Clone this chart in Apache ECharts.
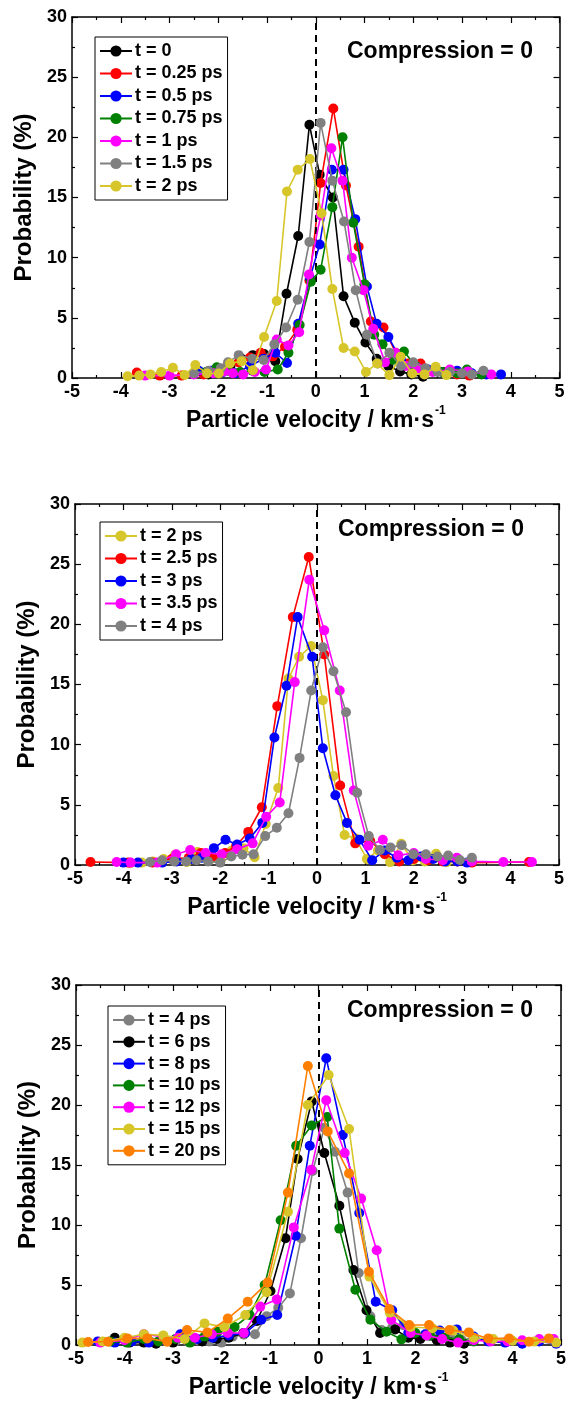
<!DOCTYPE html>
<html><head><meta charset="utf-8">
<script src="https://cdn.jsdelivr.net/npm/echarts@6/dist/echarts.min.js"></script>
<style>html,body{margin:0;padding:0;background:#fff}#c{width:569px;height:1403px}</style>
</head><body><div id="c"></div>
<script>
// ---------- DATA (velocity km/s, probability %) ----------
const P1_NAMES = ['t = 0', 't = 0.25 ps', 't = 0.5 ps', 't = 0.75 ps', 't = 1 ps', 't = 1.5 ps', 't = 2 ps'];
const P2_NAMES = ['t = 2 ps', 't = 2.5 ps', 't = 3 ps', 't = 3.5 ps', 't = 4 ps'];
const P3_NAMES = ['t = 4 ps', 't = 6 ps', 't = 8 ps', 't = 10 ps', 't = 12 ps', 't = 15 ps', 't = 20 ps'];

const T0 = [[-2.2,0.3],[-1.97,0.6],[-1.75,1.0],[-1.52,1.6],[-1.29,1.9],[-1.06,2.0],[-0.83,1.4],[-0.60,7.0],[-0.36,11.8],[-0.13,21.05],[0.08,16.9],[0.35,15.0],[0.57,6.8],[0.80,4.6],[1.02,2.95],[1.25,1.6],[1.49,1.0],[1.73,0.55],[1.96,0.3],[2.2,0.1]];
const T025 = [[-3.67,0.45],[-3.2,0.2],[-2.75,0.2],[-2.3,0.3],[-1.85,0.8],[-1.58,1.3],[-1.35,1.7],[-1.13,2.1],[-0.88,1.8],[-0.63,2.6],[-0.38,4.0],[-0.13,8.1],[0.10,16.2],[0.36,22.4],[0.62,16.0],[0.88,10.9],[1.13,4.7],[1.39,4.2],[1.64,2.1],[1.9,1.2],[2.15,1.2],[2.4,0.6],[2.65,0.5],[2.9,0.3],[3.15,0.2]];
const T05 = [[-2.4,0.6],[-2.15,0.6],[-1.9,0.5],[-1.65,0.4],[-1.35,1.0],[-1.07,1.6],[-0.83,2.1],[-0.59,1.25],[-0.36,4.5],[-0.12,8.3],[0.08,11.1],[0.33,17.3],[0.57,17.3],[0.81,13.2],[1.05,7.6],[1.25,4.5],[1.49,3.4],[1.75,1.5],[2.0,1.0],[2.3,0.7],[2.6,0.5],[2.9,0.6],[3.2,0.4],[3.5,0.3],[3.8,0.3]];
const T075 = [[-2.5,0.4],[-2.25,0.5],[-2.03,0.9],[-1.8,0.6],[-1.55,0.5],[-1.3,0.6],[-1.05,0.5],[-0.78,0.7],[-0.56,2.1],[-0.33,4.4],[-0.1,8.0],[0.1,9.0],[0.34,14.2],[0.55,20.0],[0.77,12.9],[1.0,7.8],[1.2,3.6],[1.37,2.8],[1.58,1.5],[1.81,2.2],[2.05,1.0],[2.3,0.6],[2.6,0.5],[2.9,0.4],[3.1,0.7],[3.4,0.3]];
const T1 = [[-3.5,0.2],[-3.0,0.2],[-2.5,0.3],[-2.1,0.4],[-1.88,0.55],[-1.7,0.4],[-1.49,0.3],[-1.25,0.5],[-1.02,0.7],[-0.8,3.2],[-0.56,2.7],[-0.34,3.8],[-0.14,8.6],[0.1,13.5],[0.32,19.1],[0.55,16.4],[0.74,10.0],[0.98,7.3],[1.18,4.1],[1.42,1.3],[1.63,2.1],[1.85,1.0],[2.1,0.8],[2.4,0.5],[2.75,0.7],[3.12,0.55],[3.6,0.3]];
const T15 = [[-2.5,0.4],[-2.2,0.6],[-1.95,0.8],[-1.8,1.3],[-1.58,1.9],[-1.3,1.6],[-1.07,1.5],[-0.85,2.8],[-0.61,4.2],[-0.37,6.5],[-0.13,11.3],[0.1,21.2],[0.34,16.4],[0.58,13.0],[0.82,7.3],[1.05,3.6],[1.27,1.2],[1.51,2.1],[1.75,1.0],[2.0,1.3],[2.25,0.8],[2.5,0.5],[2.75,0.5],[3.0,0.4],[3.2,0.3],[3.44,0.6]];
const T2 = [[-3.86,0.15],[-3.62,0.2],[-3.39,0.3],[-3.17,0.5],[-2.93,0.85],[-2.69,0.25],[-2.47,1.07],[-2.23,0.38],[-1.99,0.38],[-1.76,1.2],[-1.52,1.4],[-1.29,0.65],[-1.06,3.4],[-0.80,6.4],[-0.59,15.5],[-0.37,17.3],[-0.12,18.2],[0.12,13.7],[0.34,7.4],[0.57,2.5],[0.80,2.2],[1.03,0.5],[1.26,1.2],[1.51,0.24],[1.74,1.76],[1.98,0.38],[2.23,0.3],[2.46,0.93],[2.68,0.24]];
const T25 = [[-4.68,0.25],[-3.9,0.2],[-3.4,0.2],[-3.0,0.5],[-2.65,0.6],[-2.4,1.0],[-2.15,0.7],[-1.9,1.0],[-1.67,1.6],[-1.42,2.75],[-1.14,4.8],[-0.82,13.2],[-0.50,20.6],[-0.17,25.6],[0.15,17.5],[0.48,6.6],[0.79,1.8],[1.1,2.0],[1.4,0.9],[1.7,0.3],[2.0,0.5],[2.3,0.4],[2.6,0.3],[2.9,0.3],[3.2,0.2],[4.38,0.25]];
const T3 = [[-4.0,0.2],[-3.7,0.2],[-3.2,0.2],[-2.9,0.3],[-2.6,0.5],[-2.38,0.6],[-2.13,1.4],[-1.89,2.1],[-1.65,1.7],[-1.39,2.2],[-1.13,3.5],[-0.88,10.6],[-0.63,14.9],[-0.40,20.6],[-0.10,17.3],[0.12,9.7],[0.38,5.8],[0.62,3.5],[0.88,2.1],[1.14,0.4],[1.4,1.2],[1.65,0.6],[1.89,0.4],[2.15,0.7],[2.4,0.5],[2.65,0.3],[2.9,0.3],[3.1,0.2]];
const T35 = [[-4.14,0.25],[-3.85,0.2],[-3.3,0.2],[-2.91,0.9],[-2.62,1.25],[-2.3,1.0],[-1.97,0.9],[-1.65,1.3],[-1.33,1.8],[-1.05,4.0],[-0.77,5.2],[-0.46,15.2],[-0.16,23.7],[0.15,19.5],[0.47,14.5],[0.76,6.2],[1.06,1.6],[1.36,2.1],[1.68,0.8],[2.0,1.0],[2.25,0.5],[2.6,0.4],[2.89,0.6],[3.2,0.3],[3.85,0.25],[4.44,0.25]];
const T4 = [[-3.45,0.25],[-3.2,0.4],[-2.95,0.3],[-2.7,0.3],[-2.49,0.4],[-2.25,0.3],[-2.0,0.2],[-1.77,0.7],[-1.54,0.85],[-1.31,0.9],[-1.07,2.4],[-0.83,3.1],[-0.59,4.3],[-0.36,8.9],[-0.12,14.5],[0.12,18.1],[0.34,16.1],[0.60,12.7],[0.83,6.0],[1.07,2.4],[1.3,1.25],[1.52,1.45],[1.75,1.65],[1.99,0.9],[2.25,0.9],[2.49,0.7],[2.71,0.78],[2.95,0.42],[3.2,0.6]];
const T6 = [[-4.2,0.6],[-3.9,0.2],[-3.6,0.2],[-3.35,0.1],[-3.0,0.2],[-2.7,0.4],[-2.4,0.3],[-2.1,0.5],[-1.85,0.6],[-1.55,1.0],[-1.27,2.0],[-0.99,4.5],[-0.68,8.9],[-0.43,15.5],[-0.14,20.3],[0.12,16.0],[0.43,11.6],[0.72,6.25],[0.99,2.9],[1.27,1.0],[1.58,1.3],[1.85,0.6],[2.1,0.5],[2.44,0.4],[2.71,0.2],[3.0,0.1]];
const T8 = [[-4.55,0.3],[-4.2,0.2],[-3.85,0.3],[-3.5,0.2],[-3.2,0.4],[-2.85,0.9],[-2.5,0.5],[-2.18,0.6],[-1.85,0.8],[-1.51,1.0],[-1.18,2.1],[-0.85,2.5],[-0.47,9.1],[-0.18,16.6],[0.16,23.9],[0.50,17.5],[0.84,11.0],[1.18,3.6],[1.52,2.9],[1.85,1.0],[2.2,0.9],[2.5,1.2],[2.85,1.3],[3.2,0.7],[3.5,0.3],[3.85,0.2],[4.2,0.1],[4.55,0.3],[4.9,0.1]];
const T10 = [[-4.3,0.3],[-3.95,0.2],[-3.6,0.5],[-3.3,0.3],[-2.95,0.5],[-2.65,0.2],[-2.35,0.7],[-2.08,1.1],[-1.73,1.5],[-1.42,2.5],[-1.11,5.0],[-0.78,10.4],[-0.46,16.6],[-0.14,18.3],[0.18,19.0],[0.43,9.7],[0.76,4.6],[1.07,2.1],[1.4,1.1],[1.71,0.47],[2.0,1.0],[2.3,0.8],[2.6,0.6],[2.9,0.5],[3.2,0.3]];
const T12 = [[-4.5,0.2],[-4.0,0.4],[-3.6,0.9],[-3.2,0.7],[-2.9,0.6],[-2.55,0.6],[-2.2,0.9],[-1.87,1.0],[-1.54,1.0],[-1.2,3.2],[-0.86,3.8],[-0.51,9.8],[-0.15,14.6],[0.16,20.4],[0.54,16.0],[0.88,12.2],[1.2,7.9],[1.5,2.1],[1.9,1.0],[2.23,0.8],[2.55,0.5],[2.88,0.2],[3.2,0.4],[3.55,0.3],[3.9,0.3],[4.2,0.4],[4.55,0.5],[4.85,0.5]];
const T15P = [[-4.87,0.2],[-4.45,0.3],[-4.0,0.6],[-3.6,0.9],[-3.2,0.8],[-2.76,0.5],[-2.35,1.8],[-1.94,1.5],[-1.51,2.5],[-1.07,4.4],[-0.63,11.1],[-0.22,20.0],[0.21,22.5],[0.63,18.0],[1.05,5.7],[1.47,2.7],[1.9,1.5],[2.35,1.4],[2.78,1.2],[3.2,0.6],[3.6,0.5],[4.0,0.35],[4.45,0.3],[4.9,0.2]];
const T20 = [[-4.75,0.25],[-4.34,0.28],[-3.94,0.55],[-3.53,0.55],[-3.12,0.28],[-2.71,1.25],[-2.29,1.05],[-1.87,2.2],[-1.46,3.6],[-1.05,5.2],[-0.63,12.7],[-0.22,23.25],[0.19,17.8],[0.63,14.3],[1.04,6.1],[1.46,3.0],[1.87,1.67],[2.28,1.67],[2.7,1.25],[3.1,1.05],[3.5,0.55],[3.93,0.55],[4.34,0.28],[4.75,0.55]];

const P1_DATA = [T0, T025, T05, T075, T1, T15, T2];
const P2_DATA = [T2, T25, T3, T35, T4];
const P3_DATA = [T4, T6, T8, T10, T12, T15P, T20];

const P1_COLORS = ['#000000', '#ff0000', '#0000ff', '#008000', '#ff00ff', '#808080', '#d6c62a'];
const P2_COLORS = ['#d6c62a', '#ff0000', '#0000ff', '#ff00ff', '#808080'];
const P3_COLORS = ['#808080', '#000000', '#0000ff', '#008000', '#ff00ff', '#d6c62a', '#ff8000'];

const X_TITLE = '{a|Particle velocity / km·s}{s|-1}';
const Y_TITLE = 'Probability (%)';
const NOTE = 'Compression = 0';

// ---------- LAYOUT ----------
const FONT = '"Liberation Sans", Arial, sans-serif';
const panels = [
  {grid: {left: 72, top: 17, width: 487.5, height: 361}, legend: {left: 95, top: 37, gap: 4.5}, note: [347, 52], names: P1_NAMES, data: P1_DATA, colors: P1_COLORS},
  {grid: {left: 75, top: 504, width: 484, height: 361}, legend: {left: 100, top: 522, gap: 4.5}, note: [338, 530], names: P2_NAMES, data: P2_DATA, colors: P2_COLORS},
  {grid: {left: 76, top: 985, width: 485, height: 360}, legend: {left: 108, top: 1006, gap: 3.8}, note: [347, 1011], names: P3_NAMES, data: P3_DATA, colors: P3_COLORS}
];

const grids = [], xAxes = [], yAxes = [], legends = [], series = [], graphics = [];
const axisLine = {show: true, onZero: false, lineStyle: {color: '#000', width: 1.5}};
const tick = {show: true, inside: true, length: 6, lineStyle: {color: '#000', width: 1.2}};
const minor = {show: true, splitNumber: 2, length: 3, lineStyle: {color: '#000', width: 1.2}};
const lbl = {color: '#000', fontSize: 18, fontWeight: 'bold', fontFamily: FONT};

panels.forEach((p, i) => {
  grids.push(Object.assign({containLabel: false}, p.grid));
  xAxes.push({type: 'value', gridIndex: i, position: 'bottom', min: -5, max: 5, interval: 1,
    axisLine, axisTick: tick, minorTick: minor, splitLine: {show: false},
    axisLabel: Object.assign({margin: 5}, lbl),
    name: X_TITLE, nameLocation: 'middle', nameGap: 27,
    nameTextStyle: {rich: {
      a: {fontSize: 23, fontWeight: 'bold', fontFamily: FONT, color: '#000', lineHeight: 27, verticalAlign: 'bottom'},
      s: {fontSize: 12, fontWeight: 'bold', fontFamily: FONT, color: '#000', verticalAlign: 'top', padding: [0, 0, 0, 1]}
    }}});
  xAxes.push({type: 'value', gridIndex: i, position: 'top', min: -5, max: 5, interval: 1,
    axisLine, axisTick: tick, minorTick: minor, splitLine: {show: false}, axisLabel: {show: false}});
  yAxes.push({type: 'value', gridIndex: i, position: 'left', min: 0, max: 30, interval: 5,
    axisLine, axisTick: tick, minorTick: minor, splitLine: {show: false},
    axisLabel: Object.assign({margin: 5}, lbl),
    name: Y_TITLE, nameLocation: 'middle', nameGap: 35,
    nameTextStyle: {fontSize: 24, fontWeight: 'bold', fontFamily: FONT, color: '#000'}});
  yAxes.push({type: 'value', gridIndex: i, position: 'right', min: 0, max: 30, interval: 5,
    axisLine, axisTick: tick, minorTick: minor, splitLine: {show: false}, axisLabel: {show: false}});

  legends.push({show: true, orient: 'vertical', left: p.legend.left, top: p.legend.top,
    data: p.names, itemWidth: 32, itemHeight: 14, itemGap: p.legend.gap,
    padding: [5, 5, 5, 4], borderColor: '#000', borderWidth: 1, backgroundColor: '#fff',
    selectedMode: false, inactiveColor: '#000',
    textStyle: {fontSize: 18, fontWeight: 'bold', fontFamily: FONT, color: '#000', padding: [0, 0, 0, -2]}});

  p.names.forEach((nm, k) => {
    const s = {type: 'line', name: nm, xAxisIndex: 2 * i, yAxisIndex: 2 * i,
      data: p.data[k], symbol: 'circle', symbolSize: 10, showSymbol: true,
      color: p.colors[k], itemStyle: {color: p.colors[k]},
      lineStyle: {color: p.colors[k], width: 1.6}, animation: false, silent: true, z: 3 + k};
    if (k === 0) {
      s.markLine = {silent: true, symbol: ['none', 'none'], label: {show: false}, animation: false,
        lineStyle: {color: '#000', type: [7, 5], width: 2}, data: [{xAxis: 0}]};
    }
    series.push(s);
  });

  graphics.push({type: 'text', x: p.note[0], y: p.note[1], z: 100,
    style: {text: NOTE, font: 'bold 23px ' + FONT, fill: '#000', verticalAlign: 'middle', align: 'left'}});
});

const chart = echarts.init(document.getElementById('c'), null, {renderer: 'canvas'});
chart.setOption({
  backgroundColor: '#fff', animation: false,
  grid: grids, xAxis: xAxes, yAxis: yAxes, legend: legends, series: series, graphic: graphics
});
</script></body></html>
